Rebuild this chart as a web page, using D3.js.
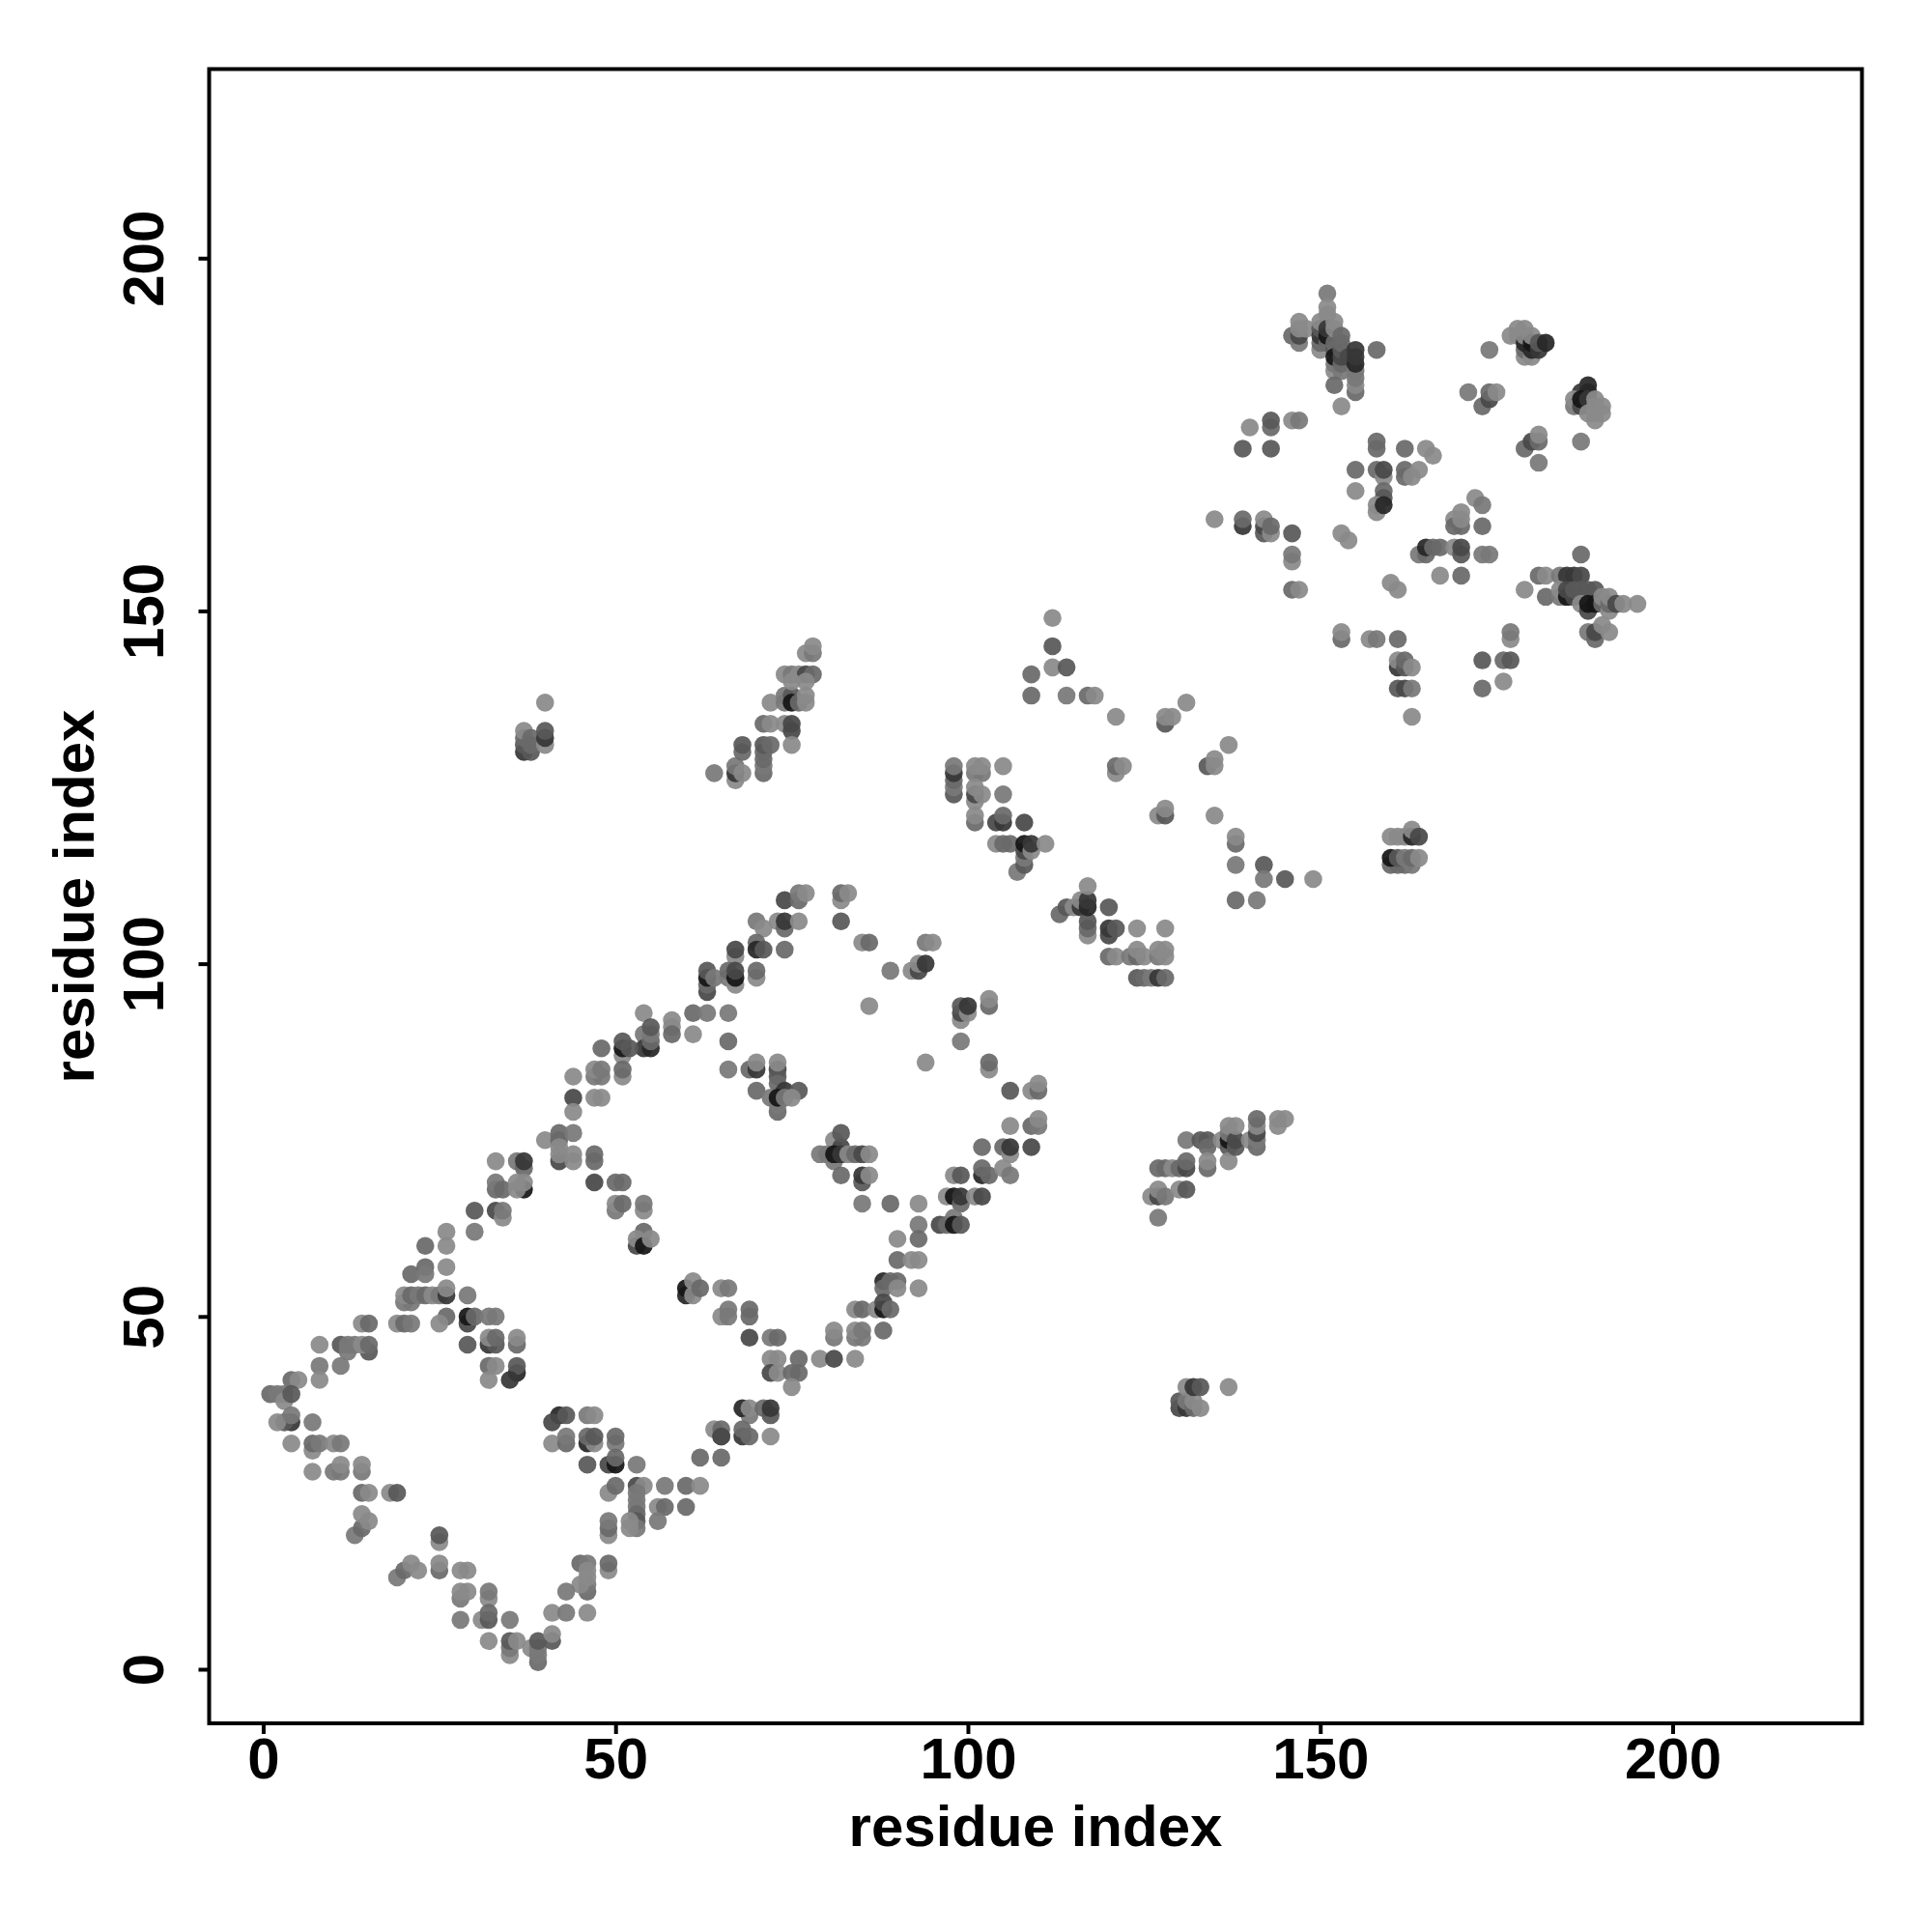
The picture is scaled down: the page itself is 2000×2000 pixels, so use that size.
<!DOCTYPE html>
<html><head><meta charset="utf-8">
<script src="https://cdn.jsdelivr.net/npm/d3@7"></script>
<style>html,body{margin:0;padding:0;background:#fff}svg{display:block}</style></head>
<body><div id="chart"></div>
<script>
const tickValues=[0,50,100,150,200];
const axisTitle="residue index";
// [residue i, residue j, contact strength 1..8]
const hairpinLow=[[21,56,3],[23,57,3],[23,56,2],[26,57,1],[23,60,3],[26,62,1],[26,60,1],[30,65,4],[30,62,2],
[20,52,2],[21,52,2],[20,53,1],[21,53,3],[22,53,2],[23,53,3],[24,53,1],[25,53,2],[26,53,6],[26,54,1],[29,53,2],
[26,50,3],[25,49,1],[29,49,5],[29,50,8],[30,50,3],[32,50,2],[33,50,2],
[14,49,1],[15,49,3],[19,49,1],[20,49,3],[21,49,2],
[8,46,1],[11,46,4],[12,46,2],[12,45,2],[13,46,2],[15,45,4],[14,46,1],[15,46,3],
[29,46,4],[32,46,6],[33,46,4],[32,47,1],[33,47,3],[36,46,3],[36,47,1],
[8,43,2],[11,43,2],[32,43,3],[33,43,1],[36,42,7],[36,43,4],[8,41,1],[32,41,1],[35,41,6],
[4,41,3],[5,41,1],[1,39,3],[2,39,2],[3,39,2],[3,38,1],[4,39,4],
[4,35,6],[3,35,4],[2,35,1],[4,36,2],[7,35,2],
[42,36,7],[41,35,5],[43,36,4],[46,36,2],[47,36,1],
[4,32,1],[7,31,1],[7,32,3],[8,32,2],[10,32,1],[11,32,2],
[41,32,1],[43,32,3],[43,33,2],[46,32,7],[47,32,1],[46,33,3],[47,33,4],[50,32,2],[50,33,3],
[46,29,4],[49,29,5],[50,29,8],[50,30,3],[53,29,2],
[7,28,1],[10,28,2],[11,28,2],[11,29,1],[14,28,2],[14,29,1],
[14,25,3],[15,25,1],[18,25,1],[19,25,4],
[49,25,1],[50,26,3],[53,26,5],[54,26,1],[57,26,2],[60,26,3],[62,26,1],
[53,25,2],[53,24,2],[53,23,2],[53,22,3],[53,21,4],[53,20,2],[52,21,1],[52,20,1],
[56,23,1],[57,23,3],[60,23,3],[56,21,2],[49,19,1],[49,20,3],[49,21,2],
[13,19,2],[14,20,3],[14,22,1],[15,21,1],[25,18,1],[25,19,4],
[19,13,2],[20,14,3],[21,15,1],[22,14,1],[25,14,3],[25,15,1],[28,14,1],[29,14,1],
[45,15,3],[46,15,2],[46,14,1],[49,14,1],[49,15,3],
[46,11,3],[46,12,2],[45,12,1],[46,13,1],[43,11,2],
[28,10,2],[28,11,1],[29,11,1],[32,10,1],[32,11,2],
[28,7,2],[31,7,1],[32,7,4],[32,8,3],[35,7,2],[41,8,1],[43,8,2],[46,8,1],
[32,4,1],[35,2,1],[35,3,2],[35,4,4],[36,4,1],[38,3,1],[39,1,3],[39,2,2],[39,3,2],[39,4,4],[41,4,4],[41,5,1],
[60,53,7],[60,54,8],[61,53,1],[61,55,1],[62,54,3],[65,54,1],[66,54,2],
[65,50,1],[66,50,2],[66,51,2],[64,34,1],[65,33,4],[65,34,3],[62,30,3],[65,30,3]];

const hairpinMid=[[54,93,1],[58,92,1],[58,91,1],[58,90,3],[61,90,1],[61,93,3],[63,93,2],[66,93,2],[66,89,3],[66,85,2],
[54,90,2],[54,88,6],[55,88,7],[55,89,3],[55,90,2],[55,91,4],[51,87,1],[51,88,8],[51,89,4],[52,88,4],[48,88,3],
[51,84,1],[51,85,3],[47,84,2],[48,84,2],[47,85,1],[48,85,2],[44,84,1],[44,81,5],[47,81,1],[48,81,1],[44,79,1],
[40,75,1],[42,76,3],[42,75,3],[44,76,2],[42,72,5],[42,73,1],[42,74,1],[44,72,1],[44,73,1],[47,72,3],[47,73,3],
[47,69,5],[50,69,3],[51,69,3],[50,65,2],[50,66,1],[51,66,3],[54,65,1],[54,66,2],
[54,62,3],[53,60,5],[53,61,1],[54,60,8],[55,61,1],
[33,72,1],[36,72,2],[37,71,3],[37,72,6],[37,68,8],[33,68,3],[33,69,2],[34,68,3],[36,68,1],[36,69,1],[37,69,1],
[33,65,5],[34,64,1],[34,65,2],
[69,85,3],[70,85,6],[70,86,1],[73,85,5],[73,84,4],[73,83,3],[73,86,1],[70,82,3],[74,82,6],[76,82,4],
[72,81,2],[73,79,3],[73,80,2],[73,81,8],[74,81,2],[75,81,1],
[81,75,1],[82,74,5],[82,76,4],[79,73,2],[80,73,2],[81,72,2],[81,73,8],[82,73,6],[83,73,1],[84,73,3],[85,73,5],[86,73,1],
[82,70,3],[85,69,4],[85,70,6],[86,70,1],
[85,66,2],[89,66,3],[93,66,1],[93,63,2],[93,61,3],[90,61,1],[90,58,3],[92,58,1],[93,58,1],
[88,55,7],[89,55,3],[90,55,3],[88,54,3],[90,54,1],[93,54,1],
[84,51,1],[85,51,3],[87,51,1],[88,51,8],[88,52,5],[89,51,3],[88,48,3],
[81,47,2],[81,48,1],[84,47,2],[85,47,2],[84,48,1],[85,48,2],[79,44,1],[81,44,5],[84,44,1],
[72,44,1],[73,44,1],[76,44,3],[72,42,5],[73,42,1],[75,42,3],[76,42,3],[75,40,1],
[69,50,3],[69,51,3],[69,47,5],[72,47,2],[73,47,3],
[69,36,2],[68,37,7],[69,37,1],[71,37,3],[72,36,4],[72,37,6],[65,33,5],[68,33,6],[68,34,3],[69,33,3],[72,33,1]];

const hairpinUpper=[[74,109,5],[76,109,3],[76,110,2],[77,110,1],[82,109,1],[82,110,3],[83,110,1],
[70,106,2],[71,105,1],[73,106,1],[74,105,3],[74,106,6],[76,106,1],[82,106,4],
[67,101,1],[67,102,5],[70,103,3],[70,102,7],[71,102,4],[74,102,3],
[63,96,5],[63,97,3],[63,98,8],[63,99,4],[64,98,2],[66,98,2],[66,99,3],[67,97,1],[67,98,8],[67,99,5],[70,98,1],[70,99,3],
[85,103,1],[86,103,3],[94,103,2],[95,103,1],[89,99,2],[92,99,1],[93,99,5],[93,100,1],[94,100,6],
[86,94,1],[94,86,1],
[99,92,1],[99,93,5],[99,94,4],[100,93,1],[100,94,6],[103,94,3],[103,95,1],[99,89,2],[103,85,1],[103,86,3],
[106,82,4],[109,82,1],[110,82,3],[110,83,1],[106,77,1],[109,77,3],[110,77,2],[110,78,1],
[102,74,3],[105,74,3],[106,73,1],[106,74,6],[109,74,5],
[102,70,7],[102,71,3],[103,70,3],[105,71,1],[106,70,2],[98,70,1],[99,70,4],
[97,67,1],[98,67,8],[99,66,3],[99,67,6],[101,67,1],[102,67,5],
[96,63,5],[97,63,3],[98,64,2],[98,63,8],[99,63,4]];

const helixPacking=[[112,149,1],[112,145,4],[112,142,1],[114,142,4],[109,141,3],[109,138,3],[114,138,2],[117,138,3],[118,138,1],[121,135,1],
[128,134,4],[128,135,1],[129,135,1],[131,137,1],[121,127,1],[121,128,3],[122,128,1],[134,128,4],[135,128,1],[135,129,1],[137,131,1],
[98,124,4],[98,125,2],[98,126,3],[98,127,6],[98,128,2],[101,127,2],[102,127,2],[101,128,1],[102,128,1],[105,128,1],
[101,123,1],[101,124,5],[101,125,1],[102,124,1],[105,124,2],
[101,120,3],[101,121,1],[104,120,5],[105,120,6],[105,121,3],[108,120,5],
[104,117,1],[105,117,3],[106,117,3],[107,113,2],[108,114,4],[108,115,2],[108,116,5],[108,117,8],[109,116,1],[109,117,6],[111,117,1],
[127,121,1],[128,121,4],[128,122,1],[135,121,1],[138,117,3],[138,118,1],[138,114,2],[142,114,4],[142,112,2],[145,112,4],[149,112,1],[138,109,3],[141,109,2],
[113,107,3],[114,108,4],[115,108,1],[116,108,6],[116,109,1],[117,104,1],[117,105,3],[117,106,4],[117,108,7],[117,109,6],[117,111,1],[120,108,4],
[120,104,5],[120,105,6],[121,105,4],[124,105,1],[128,105,1],
[120,101,3],[121,101,1],[123,101,2],[124,101,3],[124,102,1],[125,101,1],[127,101,2],[127,102,1],[128,101,1],[128,102,1],
[124,98,4],[125,98,3],[126,98,2],[127,98,6],[128,98,3]];

const strandPairA=[[127,64,2],[126,67,1],[127,67,5],[127,68,1],[128,67,2],[130,68,1],[131,68,4],
[127,71,3],[128,71,3],[129,71,1],[130,71,3],[131,71,5],[131,72,3],
[131,75,2],[133,75,4],[134,75,4],[134,74,3],[134,71,3],[134,72,1],
[136,75,1],[137,74,4],[137,75,8],[137,76,2],[137,77,1],[137,72,1],[138,74,4],[138,75,5],[138,77,1],
[140,75,1],[141,74,3],[141,75,2],[141,76,5],[141,77,1],[141,78,3],[144,77,1],[144,78,1],[145,78,1]];
const strandPairB=[[130,37,5],[130,38,4],[131,37,6],[131,38,2],[132,37,3],[132,38,1],[133,37,1],[131,40,1],[132,40,6],[133,40,4],[137,40,1]];
const strandPairC=[[160,114,3],[161,114,3],[162,114,3],[163,114,2],[160,115,8],[161,115,4],[162,115,2],[163,115,3],[164,115,1],
[160,118,1],[161,118,1],[162,118,1],[163,118,7],[163,119,1],[164,118,5]];

const domainTop=[[151,195,2],[151,193,1],[151,192,1],[146,189,3],[147,188,2],[147,189,5],[147,190,1],[147,191,1],[148,190,1],
[150,187,1],[150,188,3],[150,189,6],[150,190,4],[150,191,1],[151,188,3],[151,189,8],[151,190,6],[152,187,4],[152,188,3],[152,190,1],[152,191,1],
[152,184,1],[152,185,2],[152,186,8],[153,184,2],[153,185,3],[153,186,5],[153,187,4],[153,188,3],[153,189,3],[154,186,5],
[155,181,3],[155,182,1],[155,183,2],[155,184,2],[155,185,7],[155,186,6],[155,187,6],[158,187,3],[152,182,3],[153,179,1],
[174,187,2],[177,189,1],[178,189,1],[178,190,1],[179,186,1],[179,187,3],[179,188,7],[179,189,1],[179,190,1],[180,186,1],[180,187,7],[180,188,8],[180,189,1],[181,187,6],[181,188,4],[182,188,7],
[171,181,2],[173,179,3],[174,180,5],[174,181,3],[175,181,1],
[188,182,7],[187,181,6],[188,181,7],[186,179,2],[186,180,1],[187,179,5],[187,180,8],[188,180,6],[188,178,1],[189,177,1],[189,178,1],[189,179,1],[189,180,1],[190,178,1],[190,179,1],
[187,174,2],[179,173,3],[180,174,5],[181,174,3],[181,175,1],[181,171,2],
[140,176,1],[143,176,3],[143,177,4],[146,177,1],[147,177,2],[139,173,4],[143,173,4]];

const domainMid=[[158,173,3],[158,174,3],[162,173,3],[165,173,1],[166,172,1],
[155,170,3],[158,170,3],[159,169,1],[159,170,5],[162,169,3],[162,170,3],[163,169,1],[164,170,1],[155,167,1],
[159,167,3],[159,166,4],[158,164,1],[158,165,1],[159,165,7],
[135,163,1],[139,162,6],[139,163,3],[142,161,4],[142,162,5],[142,163,1],[143,161,1],[143,162,3],[146,161,4],[146,157,1],[146,158,2],[146,153,3],[147,153,1],
[153,161,1],[154,160,1],[160,154,1],[161,153,1],
[172,166,1],[173,165,2],[170,164,1],[169,163,1],[170,162,3],[169,162,3],[170,163,1],[173,162,3],
[164,158,2],[165,158,3],[165,159,7],[166,159,3],[167,159,3],[169,159,1],[170,158,4],[170,159,5],[173,158,2],[174,158,2],[167,155,1],[170,155,3],
[187,158,3],[181,155,3],[182,155,1],[184,155,2],[185,155,6],[186,155,6],[187,155,5],[179,153,1],[182,152,3],
[184,152,2],[184,153,1],[185,152,8],[185,153,5],[186,152,5],[186,153,4],[187,153,4],[188,153,4],[189,153,4],
[187,151,1],[188,150,5],[188,151,8],[189,151,8],[190,151,3],[190,152,1],[191,150,1],[191,151,3],[191,152,1],[192,151,5],[193,151,1],[195,151,1],
[188,147,2],[189,146,3],[189,147,5],[190,148,1],[191,147,1],
[153,146,3],[153,147,1],[157,146,1],[158,146,2],[161,146,3],
[161,142,6],[161,143,1],[162,142,4],[162,143,3],[163,142,1],[161,139,4],[162,139,5],[163,139,2],[163,135,1],
[173,143,4],[176,143,3],[177,143,4],[177,146,1],[177,147,2],[176,140,1],[173,139,3]];

const strandPairD=[[40,137,1],[37,130,6],[37,131,4],[37,132,3],[37,133,1],[38,130,4],[38,131,3],[38,132,3],[40,131,1],[40,132,6],[40,133,4],
[64,127,2],[67,126,1],[67,127,6],[67,128,2],[68,127,1],[68,130,3],[68,131,4],
[71,127,3],[71,128,2],[71,129,3],[71,130,3],[71,131,4],[72,131,3],
[71,134,3],[72,134,1],[74,134,1],[75,133,5],[75,134,5],[75,131,1],
[72,137,1],[74,137,2],[74,138,2],[75,138,4],[75,137,8],[76,137,3],[77,137,1],[77,138,1],
[74,141,1],[75,141,2],[76,141,1],[77,141,5],[78,141,3],[75,140,1],[77,140,1],[77,144,1],[78,144,2],[78,145,1]];

const allContacts=[...hairpinLow,...hairpinMid,...hairpinUpper,...helixPacking,...strandPairA,...strandPairB,...strandPairC,...domainTop,...domainMid,...strandPairD];

const svg=d3.select("#chart").append("svg").attr("width",2000).attr("height",2000);
const x=d3.scaleLinear().domain([-7.6,226.8]).range([217,1927]);
const y=d3.scaleLinear().domain([-7.6,226.8]).range([1783.5,71.5]);
const tone=d3.scaleLinear().domain([1,8]).range(["#8a8a8a","#161616"]);
const font="'Liberation Sans',Arial,sans-serif";

svg.append("g").selectAll("circle").data(allContacts).join("circle")
 .attr("cx",d=>x(d[0])).attr("cy",d=>y(d[1])).attr("r",9.3)
 .attr("fill",d=>tone(d[2])).attr("fill-opacity",0.93);

svg.append("rect").attr("x",216.5).attr("y",71.5).attr("width",1711).attr("height",1712.5)
 .attr("fill","none").attr("stroke","#000").attr("stroke-width",4);

const gx=svg.append("g").attr("transform","translate(0,1784)")
 .call(d3.axisBottom(x).tickValues(tickValues).tickSize(11).tickPadding(6));
const gy=svg.append("g").attr("transform","translate(216.5,0)")
 .call(d3.axisLeft(y).tickValues(tickValues).tickSize(11).tickPadding(6));
[gx,gy].forEach(g=>{g.select(".domain").remove();
 g.selectAll("line").attr("stroke","#000").attr("stroke-width",4);
 g.selectAll("text").attr("fill","#000").style("font-family",font).style("font-weight","bold").style("font-size","60px");});
gx.selectAll("text").attr("y",null).attr("dy",null).attr("text-anchor","middle").attr("transform","translate(0,41)").attr("dominant-baseline","middle");
gy.selectAll("text").attr("x",null).attr("dy",null).attr("text-anchor","middle").attr("dominant-baseline","middle").attr("transform","translate(-63,0) rotate(-90)");

svg.append("text").attr("x",1072).attr("y",1895).attr("text-anchor","middle").attr("dominant-baseline","middle")
 .style("font-family",font).style("font-weight","bold").style("font-size","60px").text(axisTitle);
svg.append("text").attr("transform","translate(81,928) rotate(-90)").attr("text-anchor","middle").attr("dominant-baseline","middle")
 .style("font-family",font).style("font-weight","bold").style("font-size","60px").text(axisTitle);
</script></body></html>
